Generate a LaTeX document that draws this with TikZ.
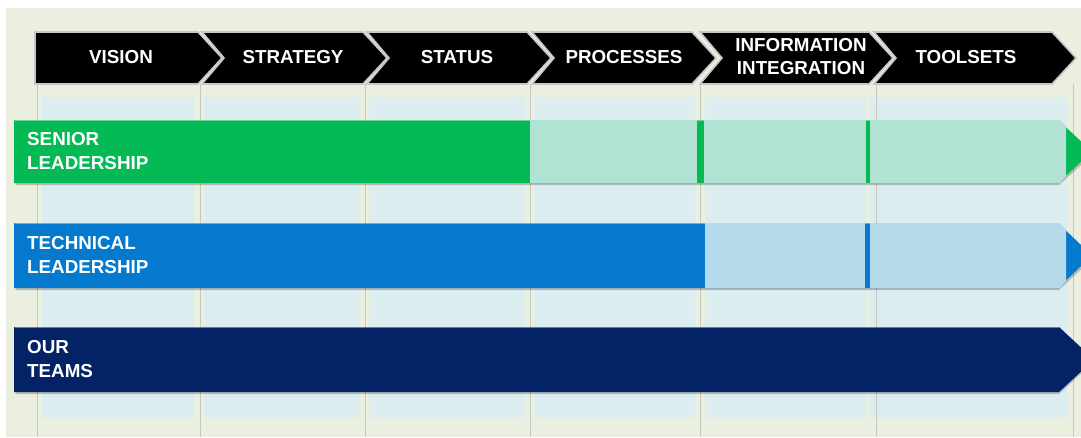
\documentclass[tikz,border=0pt]{standalone}
\usepackage{fontspec}
\setsansfont{Liberation Sans}
\definecolor{bgbeige}{HTML}{EBEFE0}
\definecolor{panelblue}{HTML}{DCEDF0}
\definecolor{gridgray}{HTML}{C4C9C0}
\definecolor{srgreen}{HTML}{03BA55}
\definecolor{srgreenlt}{HTML}{B1E3D5}
\definecolor{techblue}{HTML}{0479CD}
\definecolor{techbluelt}{HTML}{B4DAEC}
\definecolor{teamnavy}{HTML}{042266}

\begin{document}
\begin{tikzpicture}[
  x=1pt,y=-1pt,
  chev/.style={fill=black, draw=gray!45, line width=1.6pt},
  hdr/.style={text=white, font=\sffamily\bfseries\fontsize{18.8}{23}\selectfont, align=center, inner sep=0pt},
  lbl/.style={text=white, font=\sffamily\bfseries\fontsize{18.8}{24}\selectfont, align=left, anchor=west, inner sep=0pt},
  panel/.style={fill=panelblue},
  gridline/.style={draw=gridgray, line width=0.9pt},
  barshadow/.style={fill=black, opacity=0.22}
]
\useasboundingbox (0,0) rectangle (1081,437);
\clip (0,0) rectangle (1081,437);
\fill[white] (0,0) rectangle (1081,437);
\fill[bgbeige] (6,8) rectangle (1081,437);

% column panels and grid lines
\foreach \a/\b in {42/194, 204/360, 369/525, 534/695, 705/866, 870/1067}
  \fill[panel] (\a,97) rectangle (\b,418);
\foreach \x in {37,200,365,530,700,876,1073}
  \draw[gridline] (\x,84) -- (\x,437);

% header chevrons
\foreach \a/\b/\d/\c/\n/\t in {35/222/0/121/vision/VISION, 202/387/22/293/strategy/STRATEGY,
    367/551/22/457/status/STATUS, 532/716/22/624/processes/PROCESSES,
    700/893/22/801/info/{INFORMATION\\INTEGRATION}, 874/1076/22/966/toolsets/TOOLSETS}{
  \draw[chev] (\a,32) -- (\b-24,32) -- (\b,58) -- (\b-24,84) -- (\a,84) -- (\a+\d,58) -- cycle;
  \node[hdr] (\n) at (\c,57) {\t};
}

% bar shadows
\foreach \t/\h in {120/183, 223/288, 327/392}
  \fill[barshadow] (15.5,\t+2) -- (1059,\t+2) -- (1094,{(\t+\h)/2+2}) -- (1059,\h+2) -- (15.5,\h+2) -- cycle;

% senior leadership
\fill[srgreen] (14,120) -- (1058,120) -- (1092,151.5) -- (1058,183) -- (14,183) -- cycle;
\draw[srgreen!60!white, line width=1.2pt] (14.6,120.8) -- (1058,120.8);
\fill[srgreenlt] (530,120) rectangle (697,183);
\fill[srgreenlt] (704,120) rectangle (866,183);
\fill[srgreenlt] (870,120) -- (1060,120) -- (1066,127) -- (1066,176) -- (1060,183) -- (870,183) -- cycle;
\node[lbl] (senior) at (27,151) {SENIOR\\LEADERSHIP};

% technical leadership
\fill[techblue] (14,223) -- (1058,223) -- (1092,255.5) -- (1058,288) -- (14,288) -- cycle;
\draw[techblue!60!white, line width=1.2pt] (14.6,223.8) -- (1058,223.8);
\fill[techbluelt] (705,223) rectangle (865,288);
\fill[techbluelt] (870,223) -- (1060,223) -- (1066,230) -- (1066,281) -- (1060,288) -- (870,288) -- cycle;
\node[lbl] (technical) at (27,255) {TECHNICAL\\LEADERSHIP};

% our teams
\fill[teamnavy] (14,327) -- (1059,327) -- (1094,359.5) -- (1059,392) -- (14,392) -- cycle;
\draw[teamnavy!60!white, line width=1.2pt] (14.6,327.8) -- (1059,327.8);
\node[lbl] (teams) at (27,359) {OUR\\TEAMS};
\end{tikzpicture}
\end{document}
